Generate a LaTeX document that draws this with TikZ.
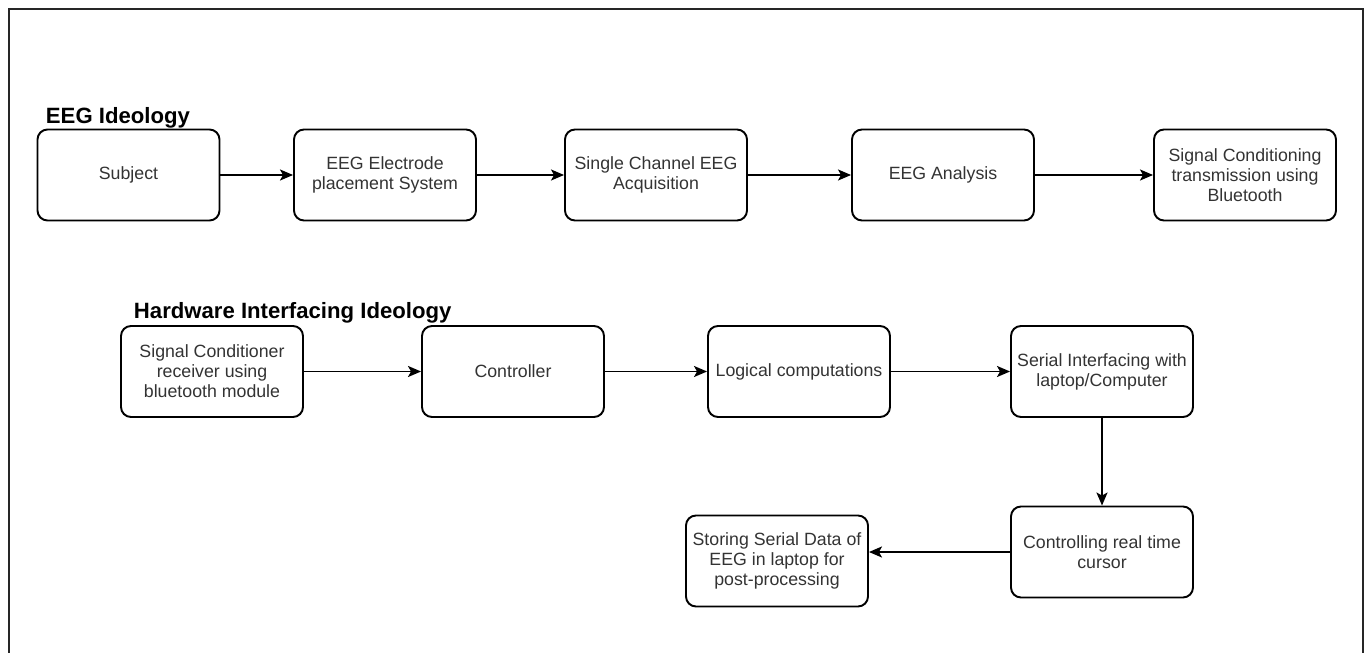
\documentclass[tikz,border=0pt]{standalone}
\usepackage{fontspec}
\setmainfont{Liberation Sans}
\usetikzlibrary{arrows.meta,positioning}

\begin{document}
\begin{tikzpicture}[>={Stealth[length=0.26cm,width=0.22cm,inset=0.06cm]},
 line width=1.1pt,
 blk/.style={draw,rounded corners=0.2cm,minimum width=3.64cm,minimum height=1.82cm,
   align=center,inner sep=1pt,text=black!80,font=\fontsize{10.1}{11.4}\selectfont},
 ttl/.style={anchor=base west,inner sep=0pt,font=\fontsize{12.6}{14}\selectfont\bfseries}]
\useasboundingbox (0,0) rectangle (27.36,13.04);
\draw[black!85] (0.18,-0.2) -- (0.18,12.86) -- (27.26,12.86) -- (27.26,-0.2);
% EEG row
\node[ttl] (t1) at (0.9,10.56) {EEG Ideology};
\node[blk] (subj) at (2.57,9.54) {Subject};
\node[blk] (elec) at (7.70,9.54) {EEG Electrode\\placement System};
\node[blk] (acq) at (13.12,9.54) {Single Channel EEG\\Acquisition};
\node[blk] (ana) at (18.86,9.54) {EEG Analysis};
\node[blk] (cond) at (24.90,9.54) {Signal Conditioning\\transmission using\\Bluetooth};
\draw[->] (subj) -- (elec);
\draw[->] (elec) -- (acq);
\draw[->] (acq) -- (ana);
\draw[->] (ana) -- (cond);
% hardware row
\node[ttl] (t2) at (2.66,6.66) {Hardware Interfacing Ideology};
\node[blk] (recv) at (4.24,5.61) {Signal Conditioner\\receiver using\\bluetooth module};
\node[blk] (ctrl) at (10.26,5.61) {Controller};
\node[blk] (logic) at (15.98,5.61) {Logical computations};
\node[blk] (ser) at (22.04,5.61) {Serial Interfacing with\\laptop/Computer};
\node[blk] (cur) at (22.04,2.0) {Controlling real time\\cursor};
\node[blk] (store) at (15.54,1.82) {Storing Serial Data of\\EEG in laptop for\\post-processing};
\draw[->] (recv) -- (ctrl);
\draw[->] (ctrl) -- (logic);
\draw[->] (logic) -- (ser);
\draw[->] (ser) -- (cur);
\draw[->] (cur.west) -- (cur.west -| store.east);
\end{tikzpicture}
\end{document}
